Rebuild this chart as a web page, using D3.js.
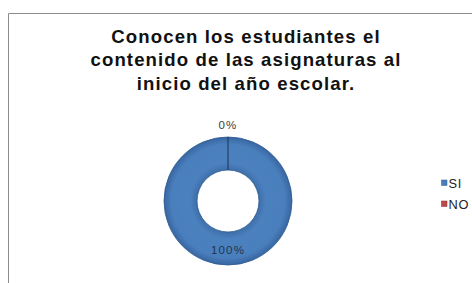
<!DOCTYPE html>
<html>
<head>
<meta charset="utf-8">
<script src="https://cdn.jsdelivr.net/npm/d3@7"></script>
<style>
  html, body { margin: 0; padding: 0; background: #fff; }
  svg { display: block; font-family: "Liberation Sans", Arial, sans-serif; }
</style>
</head>
<body>
<div id="chart"></div>
<script>
// chart values
var categories = ["SI", "NO"];
var values = [100, 0];
var labels = ["100%", "0%"];
var titleLines = [
  "Conocen los estudiantes el",
  "contenido de las asignaturas al",
  "inicio del año escolar."
];

var width = 472;
var height = 283;

var svg = d3.select("#chart")
  .append("svg")
  .attr("width", width)
  .attr("height", height);

// chart frame (only left and top edges are visible)
svg.append("path")
  .attr("d", "M8.5," + height + "V13.5H" + width)
  .attr("fill", "none")
  .attr("stroke", "#8c8c8c")
  .attr("stroke-width", 1);

// title
svg.append("text")
  .attr("text-anchor", "middle")
  .attr("font-size", "18.6px")
  .attr("font-weight", "bold")
  .attr("letter-spacing", "1.1px")
  .attr("fill", "#111")
  .selectAll("tspan")
  .data(titleLines)
  .enter()
  .append("tspan")
  .attr("x", 246)
  .attr("y", function (d, i) { return 43 + i * 23.3; })
  .text(function (d) { return d; });

var color = d3.scaleOrdinal()
  .domain(categories)
  .range(["#4a7ebb", "#be4b48"]);

var edge = d3.scaleOrdinal()
  .domain(categories)
  .range(["#2c5a91", "#8c2f2d"]);

var defs = svg.append("defs");
var grad = defs.append("radialGradient")
  .attr("id", "ringShade")
  .attr("gradientUnits", "userSpaceOnUse")
  .attr("cx", 0).attr("cy", 0).attr("r", 64);
grad.append("stop").attr("offset", "0.48").attr("stop-color", "#3d6ea8");
grad.append("stop").attr("offset", "0.6").attr("stop-color", "#4c81c0");
grad.append("stop").attr("offset", "0.88").attr("stop-color", "#4a7fbe");
grad.append("stop").attr("offset", "1").attr("stop-color", "#3867a1");

var outerR = 64;
var innerR = 31;

var pie = d3.pie().sort(null).value(function (d) { return d; });
var arcs = pie(values);

var arc = d3.arc().innerRadius(innerR).outerRadius(outerR);
var labelArc = d3.arc().innerRadius(outerR + 13).outerRadius(outerR + 13);

var g = svg.append("g")
  .attr("transform", "translate(228,201)");

g.selectAll("path.slice")
  .data(arcs)
  .enter()
  .append("path")
  .attr("class", "slice")
  .attr("d", arc)
  .attr("fill", function (d, i) { return i === 0 ? "url(#ringShade)" : color(categories[i]); })
  .attr("stroke", function (d, i) { return i === 0 ? edge(categories[i]) : "#243f66"; })
  .attr("stroke-width", function (d, i) { return i === 0 ? 0.8 : 1.2; });

// data labels: big slice inside the ring, empty slice outside
g.selectAll("text.lbl")
  .data(arcs)
  .enter()
  .append("text")
  .attr("class", "lbl")
  .attr("text-anchor", "middle")
  .attr("dy", function (d) { return d.value > 0 ? "0.48em" : "0.4em"; })
  .attr("font-size", "11.5px")
  .attr("letter-spacing", "1.2px")
  .attr("fill", function (d, i) { return i === 0 ? "#1f3550" : "#404040"; })
  .attr("transform", function (d) {
    var c = d.value > 0 ? arc.centroid(d) : labelArc.centroid(d);
    return "translate(" + c[0] + "," + c[1] + ")";
  })
  .text(function (d, i) { return labels[i]; });

// legend
var legend = svg.append("g")
  .attr("transform", "translate(441.5,183)");

var items = legend.selectAll("g")
  .data(categories)
  .enter()
  .append("g")
  .attr("transform", function (d, i) { return "translate(0," + i * 21 + ")"; });

items.append("rect")
  .attr("x", 0)
  .attr("y", -3)
  .attr("width", 5.5)
  .attr("height", 5.5)
  .attr("fill", function (d) { return color(d); })
  .attr("stroke", function (d) { return edge(d); })
  .attr("stroke-width", 0.5);

items.append("text")
  .attr("x", 7)
  .attr("y", 4.5)
  .attr("font-size", "12.8px")
  .attr("letter-spacing", "0.8px")
  .attr("fill", "#222")
  .text(function (d) { return d; });
</script>
</body>
</html>
